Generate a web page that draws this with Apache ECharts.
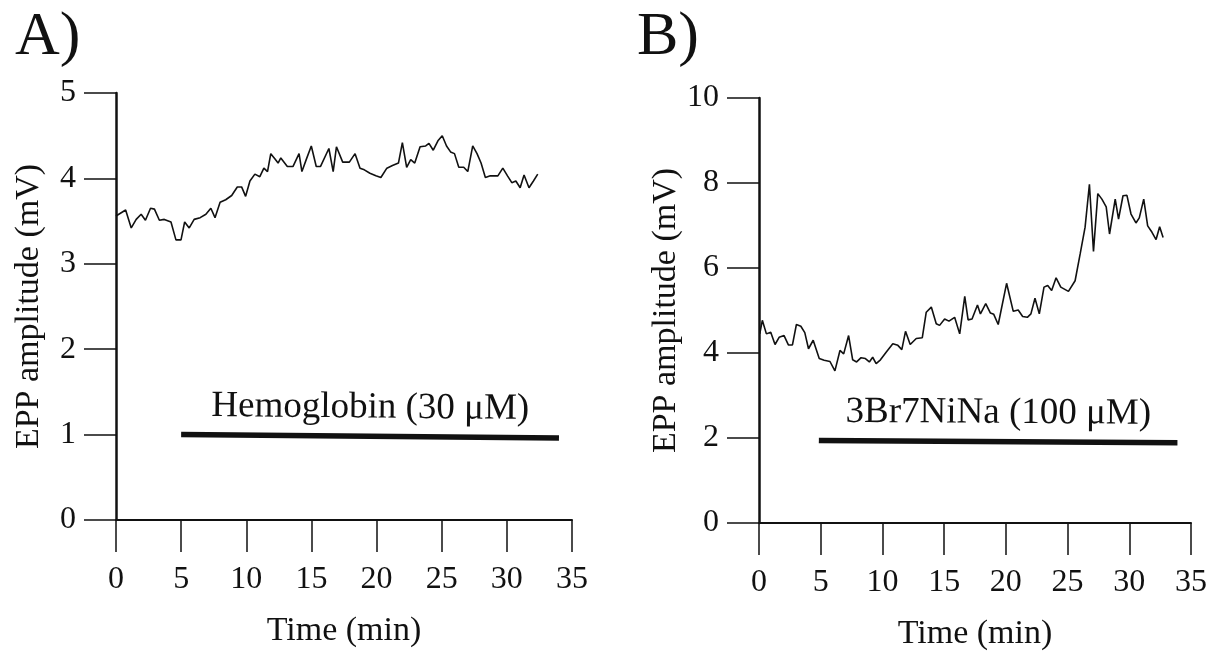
<!DOCTYPE html>
<html>
<head>
<meta charset="utf-8">
<script src="https://cdn.jsdelivr.net/npm/echarts@6/dist/echarts.min.js"></script>
<style>
  html, body { margin: 0; padding: 0; background: #fff; }
  #chart { width: 1225px; height: 657px; }
</style>
</head>
<body>
<div id="chart"></div>
<script>
// panel A: hemoglobin
const timeA = [0, 0.74, 1.17, 1.55, 1.93, 2.26, 2.65, 2.95, 3.33, 3.71, 4.22, 4.6, 4.99, 5.27, 5.62, 6.0,
  6.46, 6.9, 7.28, 7.6, 7.99, 8.42, 8.88, 9.31, 9.64, 9.95, 10.28, 10.66, 11.04, 11.35, 11.63, 11.88,
  12.19, 12.44, 12.65, 13.15, 13.59, 14.05, 14.27, 14.6, 14.99, 15.37, 15.7, 16.34, 16.67, 16.92, 17.4,
  17.91, 18.35, 18.73, 19.06, 19.49, 19.95, 20.33, 20.79, 21.22, 21.68, 21.98, 22.31, 22.62, 22.93, 23.34,
  23.77, 24.02, 24.35, 24.71, 25.04, 25.37, 25.68, 25.98, 26.31, 26.69, 27.0, 27.38, 27.71, 28.02, 28.35,
  28.73, 29.31, 29.69, 30.05, 30.38, 30.69, 31.02, 31.32, 31.7, 32.04, 32.37]
const eppA = [3.56, 3.63, 3.42, 3.52, 3.58, 3.51, 3.65, 3.64, 3.51, 3.52, 3.49, 3.28, 3.28, 3.49, 3.42, 3.52,
  3.54, 3.58, 3.65, 3.54, 3.72, 3.75, 3.80, 3.90, 3.90, 3.79, 3.97, 4.05, 4.02, 4.12, 4.08, 4.29,
  4.23, 4.18, 4.24, 4.14, 4.14, 4.29, 4.08, 4.22, 4.38, 4.14, 4.14, 4.35, 4.08, 4.37, 4.19,
  4.19, 4.29, 4.12, 4.10, 4.06, 4.03, 4.01, 4.12, 4.15, 4.18, 4.42, 4.13, 4.22, 4.18, 4.37,
  4.38, 4.41, 4.33, 4.44, 4.50, 4.38, 4.31, 4.29, 4.13, 4.13, 4.08, 4.38, 4.29, 4.18, 4.01,
  4.03, 4.03, 4.12, 4.03, 3.95, 3.97, 3.89, 4.04, 3.89, 3.97, 4.05]
const barA = [[5, 1.0], [34, 0.96]]
const labelA = 'Hemoglobin (30 μM)'

// panel B: 3Br7NiNa
const timeB = [0.06, 0.27, 0.6, 0.95, 1.3, 1.63, 2.03, 2.38, 2.71, 3.03, 3.39, 3.71, 4.01, 4.39, 4.88, 5.28,
  5.75, 6.15, 6.56, 6.86, 7.26, 7.59, 7.91, 8.27, 8.62, 8.94, 9.21, 9.49, 9.84, 10.3, 10.84, 11.25,
  11.57, 11.87, 12.25, 12.74, 13.23, 13.55, 13.96, 14.36, 14.63, 15.04, 15.39, 15.85, 16.0, 16.26, 16.67,
  16.94, 17.26, 17.7, 17.94, 18.37, 18.75, 19.02, 19.38, 20.06, 20.6, 21.0, 21.36, 21.74, 22.03, 22.36,
  22.71, 23.09, 23.39, 23.71, 24.07, 24.45, 25.07, 25.61, 26.02, 26.42, 26.77, 27.1, 27.45, 27.78, 28.13,
  28.4, 28.86, 29.13, 29.49, 29.81, 30.14, 30.54, 30.81, 31.17, 31.49, 31.84, 32.17, 32.46, 32.74]
const eppB = [4.45, 4.77, 4.45, 4.49, 4.20, 4.37, 4.41, 4.19, 4.19, 4.67, 4.63, 4.48, 4.10, 4.30, 3.87, 3.83,
  3.80, 3.58, 4.06, 3.98, 4.41, 3.84, 3.79, 3.89, 3.87, 3.79, 3.90, 3.75, 3.84, 4.02, 4.22, 4.18,
  4.08, 4.51, 4.20, 4.34, 4.36, 4.96, 5.08, 4.69, 4.65, 4.80, 4.75, 4.84, 4.84, 4.45, 5.33,
  4.78, 4.80, 5.13, 4.92, 5.16, 4.94, 4.91, 4.67, 5.64, 4.98, 5.01, 4.86, 4.84, 4.92, 5.29,
  4.92, 5.55, 5.59, 5.47, 5.77, 5.55, 5.45, 5.70, 6.33, 6.96, 7.97, 6.39, 7.75, 7.62, 7.44,
  6.80, 7.62, 7.15, 7.70, 7.71, 7.27, 7.06, 7.18, 7.62, 6.99, 6.84, 6.67, 6.97, 6.72]
const barB = [[4.85, 1.94], [33.9, 1.89]]
const labelB = '3Br7NiNa (100 μM)'

const FONT = '"Liberation Serif", "Times New Roman", serif'
const INK = '#111'

function xAxisFor(gridIndex) {
  return {
    type: 'value', gridIndex, min: 0, max: 35, interval: 5,
    name: 'Time (min)', nameLocation: 'middle', nameGap: 94,
    nameTextStyle: { color: INK, fontFamily: FONT, fontSize: 34 },
    axisLine: { lineStyle: { color: INK, width: 2 } },
    axisTick: { length: 32, lineStyle: { color: INK, width: 1.5 } },
    axisLabel: { color: INK, fontFamily: FONT, fontSize: 32, margin: 44 },
    splitLine: { show: false }
  }
}

function yAxisFor(gridIndex, max, interval) {
  return {
    type: 'value', gridIndex, min: 0, max, interval,
    name: 'EPP amplitude (mV)', nameLocation: 'middle', nameGap: 70,
    nameTextStyle: { color: INK, fontFamily: FONT, fontSize: 34 },
    axisLine: { show: true, lineStyle: { color: INK, width: 2.5 } },
    axisTick: { show: true, length: 32, lineStyle: { color: INK, width: 1.5 } },
    axisLabel: { color: INK, fontFamily: FONT, fontSize: 32, margin: 40 },
    splitLine: { show: false }
  }
}

function trace(name, idx, xs, ys, bar, label) {
  return {
    name, type: 'line', xAxisIndex: idx, yAxisIndex: idx,
    data: xs.map((t, i) => [t, ys[i]]),
    symbol: 'none', silent: true,
    lineStyle: { color: INK, width: 1.6 },
    markLine: {
      silent: true, symbol: 'none', animation: false,
      lineStyle: { color: INK, width: 5.5, type: 'solid' },
      label: { show: true, position: 'middle', distance: 10, formatter: label,
        color: INK, fontFamily: FONT, fontSize: 37 },
      data: [[{ coord: bar[0] }, { coord: bar[1] }]]
    }
  }
}

const chart = echarts.init(document.getElementById('chart'))
chart.setOption({
  animation: false,
  backgroundColor: '#fff',
  title: [
    { text: 'A)', left: 10, top: 2, textStyle: { color: INK, fontFamily: FONT, fontSize: 62, fontWeight: 'normal' } },
    { text: 'B)', left: 632, top: 2, textStyle: { color: INK, fontFamily: FONT, fontSize: 62, fontWeight: 'normal' } }
  ],
  grid: [
    { left: 116, right: 653, top: 93, bottom: 137 },
    { left: 759, right: 34, top: 98, bottom: 134 }
  ],
  xAxis: [xAxisFor(0), xAxisFor(1)],
  yAxis: [yAxisFor(0, 5, 1), yAxisFor(1, 10, 2)],
  series: [
    trace('Hemoglobin', 0, timeA, eppA, barA, labelA),
    trace('3Br7NiNa', 1, timeB, eppB, barB, labelB)
  ]
})
window.addEventListener('resize', () => chart.resize())
</script>
</body>
</html>
